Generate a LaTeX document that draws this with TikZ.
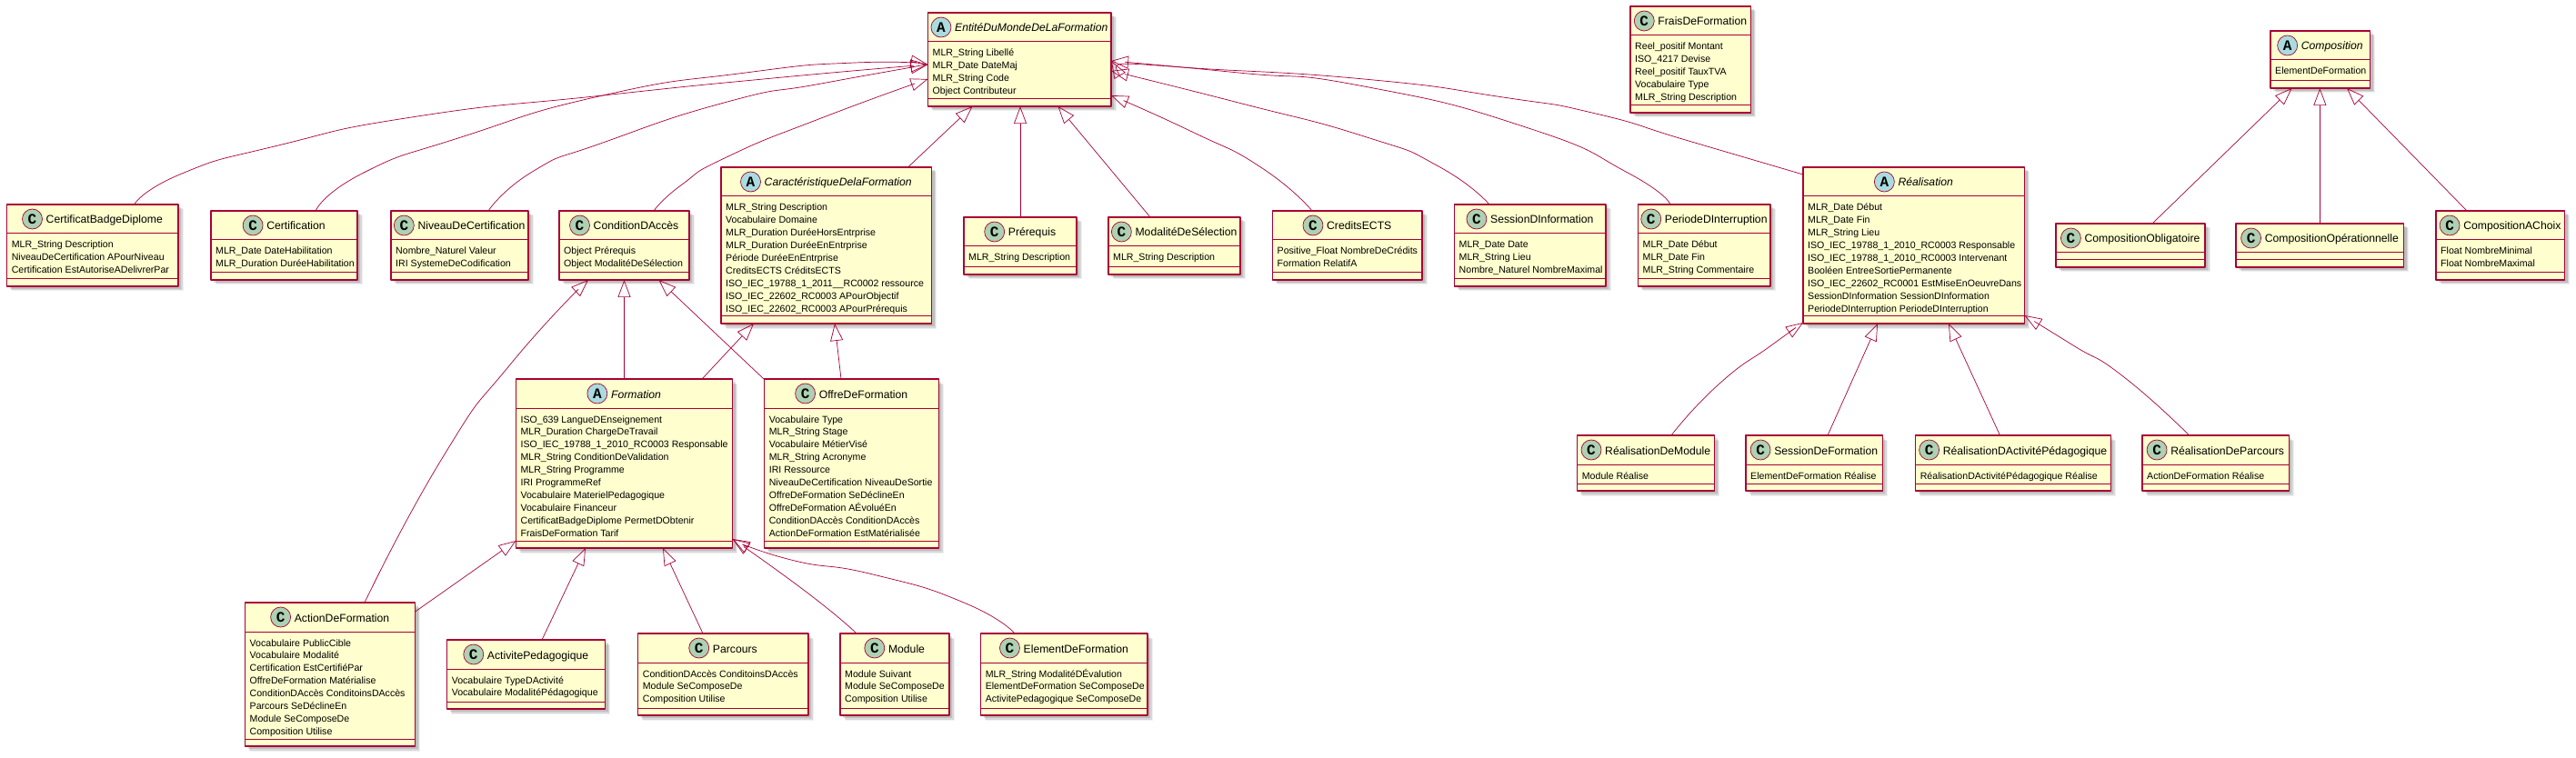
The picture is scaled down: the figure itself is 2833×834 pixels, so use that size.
\documentclass[tikz,border=0pt]{standalone}
\usepackage{fontspec}
\setmainfont{Liberation Sans}
\newfontfamily\markfont{Liberation Mono}
\usetikzlibrary{arrows.meta,shadows}
\definecolor{umlred}{HTML}{A80036}
\definecolor{umlfill}{HTML}{FEFECE}
\definecolor{markC}{HTML}{ADD1B2}
\definecolor{markA}{HTML}{A9DCDF}
\tikzset{
	classbox/.style={draw=umlred, fill=umlfill, line width=1.2pt, inner sep=0pt, outer sep=0pt,
		general shadow={shadow xshift=5.5pt, shadow yshift=-5.5pt, fill=black, opacity=.06},
		general shadow={shadow xshift=4.5pt, shadow yshift=-4.5pt, fill=black, opacity=.1},
		general shadow={shadow xshift=3pt, shadow yshift=-3pt, fill=black, opacity=.12}},
	classline/.style={draw=umlred, line width=1pt},
	titleC/.style={font=\fontsize{12.2}{14}\selectfont, inner sep=0pt, anchor=base},
	titleA/.style={font=\fontsize{12.2}{14}\selectfont\itshape, inner sep=0pt, anchor=base},
	member/.style={font=\fontsize{10.6}{14}\selectfont, inner sep=0pt, anchor=base west},
	classmark/.style={circle, draw=umlred, fill=mark#1, line width=.7pt, minimum size=22pt, inner sep=0pt,
		font=\fontsize{16}{16}\selectfont\markfont\bfseries},
	extends/.style={draw=umlred, line width=.7pt, -{Triangle[open,length=19pt,width=14pt]}},
	curved/.style={smooth, tension=1},
}
% #1 letter, #2 name, #3-#6 box corners, #7 title, #8 members
\newcommand{\umlclass}[8][C]{
	\node[classbox, minimum width={(#5-#3)*1pt}, minimum height={(#6-#4)*1pt}] (#2) at ({(#3+#5)/2},{(#4+#6)/2}) {};
	\draw[classline] ([yshift=-32pt]#2.north west) -- ([yshift=-32pt]#2.north east);
	\draw[classline] ([yshift=8pt]#2.south west) -- ([yshift=8pt]#2.south east);
	\node[title#1] (#2-title) at ([xshift=13pt,yshift=-21pt]#2.north) {#7};
	\node[classmark=#1] (#2-mark) at ([xshift=-15pt,yshift=5pt]#2-title.base west) {#1};
	\foreach \m [count=\i] in {#8}
		{\node[member] (#2-m\i) at ([xshift=5pt,yshift={-48pt-(\i-1)*13.9pt}]#2.north west) {\m};}
}
\begin{document}
\begin{tikzpicture}[x=1pt, y=-1pt, line join=round]
	\useasboundingbox (0,0) rectangle (2833,834);

	% top row
	\umlclass[A]{Entite}{1020.5}{14}{1222}{117}{EntitéDuMondeDeLaFormation}{MLR\_String Libellé,MLR\_Date DateMaj,MLR\_String Code,Object Contributeur}
	\umlclass{Frais}{1793}{7}{1925.5}{124}{FraisDeFormation}{Reel\_positif Montant,ISO\_4217 Devise,Reel\_positif TauxTVA,Vocabulaire Type,MLR\_String Description}
	\umlclass[A]{Composition}{2497}{34}{2606.5}{97}{Composition}{ElementDeFormation}

	% second row
	\umlclass{Badge}{7.6}{225}{196}{315}{CertificatBadgeDiplome}{MLR\_String Description,NiveauDeCertification APourNiveau,Certification EstAutoriseADelivrerPar}
	\umlclass{Certification}{232}{232}{393}{308}{Certification}{MLR\_Date DateHabilitation,MLR\_Duration DuréeHabilitation}
	\umlclass{Niveau}{430}{232}{581}{308}{NiveauDeCertification}{Nombre\_Naturel Valeur,IRI SystemeDeCodification}
	\umlclass{Condition}{615}{232}{758}{308}{ConditionDAccès}{Object Prérequis,Object ModalitéDeSélection}
	\umlclass[A]{Caracteristique}{793}{184}{1024.5}{356}{CaractéristiqueDelaFormation}{MLR\_String Description,Vocabulaire Domaine,MLR\_Duration DuréeHorsEntrprise,MLR\_Duration DuréeEnEntrprise,Période DuréeEnEntrprise,CreditsECTS CréditsECTS,ISO\_IEC\_19788\_1\_2011\_\_RC0002 ressource,ISO\_IEC\_22602\_RC0003 APourObjectif,ISO\_IEC\_22602\_RC0003 APourPrérequis}
	\umlclass{Prerequis}{1060}{239}{1184}{302}{Prérequis}{MLR\_String Description}
	\umlclass{Modalite}{1219}{239}{1364}{302}{ModalitéDeSélection}{MLR\_String Description}
	\umlclass{Credits}{1399.5}{232}{1564}{308}{CreditsECTS}{Positive\_Float NombreDeCrédits,Formation RelatifA}
	\umlclass{Session}{1599.5}{225}{1766}{315}{SessionDInformation}{MLR\_Date Date,MLR\_String Lieu,Nombre\_Naturel NombreMaximal}
	\umlclass{Periode}{1801.5}{225}{1947}{315}{PeriodeDInterruption}{MLR\_Date Début,MLR\_Date Fin,MLR\_String Commentaire}
	\umlclass[A]{Realisation}{1983}{184}{2226.5}{356}{Réalisation}{MLR\_Date Début,MLR\_Date Fin,MLR\_String Lieu,ISO\_IEC\_19788\_1\_2010\_RC0003 Responsable,ISO\_IEC\_19788\_1\_2010\_RC0003 Intervenant,Booléen EntreeSortiePermanente,ISO\_IEC\_22602\_RC0001 EstMiseEnOeuvreDans,SessionDInformation SessionDInformation,PeriodeDInterruption PeriodeDInterruption}
	\umlclass{Obligatoire}{2261}{246}{2425}{294}{CompositionObligatoire}{}
	\umlclass{Operationnelle}{2459}{246}{2643.7}{294}{CompositionOpérationnelle}{}
	\umlclass{AChoix}{2679}{232}{2820.6}{308}{CompositionAChoix}{Float NombreMinimal,Float NombreMaximal}

	% third row
	\umlclass[A]{Formation}{567.4}{417}{805.6}{603}{Formation}{ISO\_639 LangueDEnseignement,MLR\_Duration ChargeDeTravail,ISO\_IEC\_19788\_1\_2010\_RC0003 Responsable,MLR\_String ConditionDeValidation,MLR\_String Programme,IRI ProgrammeRef,Vocabulaire MaterielPedagogique,Vocabulaire Financeur,CertificatBadgeDiplome PermetDObtenir,FraisDeFormation Tarif}
	\umlclass{Offre}{840.6}{417}{1032.4}{603}{OffreDeFormation}{Vocabulaire Type,MLR\_String Stage,Vocabulaire MétierVisé,MLR\_String Acronyme,IRI Ressource,NiveauDeCertification NiveauDeSortie,OffreDeFormation SeDéclineEn,OffreDeFormation AÉvoluéEn,ConditionDAccès ConditionDAccès,ActionDeFormation EstMatérialisée}
	\umlclass{ReaModule}{1734.7}{479}{1885.7}{540}{RéalisationDeModule}{Module Réalise}
	\umlclass{ReaSession}{1920}{479}{2070.4}{540}{SessionDeFormation}{ElementDeFormation Réalise}
	\umlclass{ReaActivite}{2106.6}{479}{2321.4}{540}{RéalisationDActivitéPédagogique}{RéalisationDActivitéPédagogique Réalise}
	\umlclass{ReaParcours}{2356}{479}{2517.3}{540}{RéalisationDeParcours}{ActionDeFormation Réalise}

	% bottom row
	\umlclass{Action}{269.5}{663}{456.6}{821}{ActionDeFormation}{Vocabulaire PublicCible,Vocabulaire Modalité,Certification EstCertifiéPar,OffreDeFormation Matérialise,ConditionDAccès ConditoinsDAccès,Parcours SeDéclineEn,Module SeComposeDe,Composition Utilise}
	\umlclass{Activite}{491.6}{704}{665.6}{780}{ActivitePedagogique}{Vocabulaire TypeDActivité,Vocabulaire ModalitéPédagogique}
	\umlclass{Parcours}{701.7}{697}{889}{787}{Parcours}{ConditionDAccès ConditoinsDAccès,Module SeComposeDe,Composition Utilise}
	\umlclass{Module}{924}{697}{1044}{787}{Module}{Module Suivant,Module SeComposeDe,Composition Utilise}
	\umlclass{Element}{1078.6}{697}{1262}{787}{ElementDeFormation}{MLR\_String ModalitéDÉvalution,ElementDeFormation SeComposeDe,ActivitePedagogique SeComposeDe}

	% EntitéDuMonde, left side
	\draw[extends] plot[curved] coordinates {([xshift=140pt]Badge.north west) (200,191) (306,160) (459,128) (663,105) (850,86) ([yshift=-57pt]Entite.north west)};
	\draw[extends] plot[curved] coordinates {([xshift=115pt]Certification.north west) (400,190) (510,150) (663,105) (820,80) (940,69) ([yshift=-57pt]Entite.north west)};
	\draw[extends] plot[curved] coordinates {([xshift=107pt]Niveau.north west) (587,188) (663,157) (800,112) (903,92) ([yshift=-57pt]Entite.north west)};
	\draw[extends] plot[curved] coordinates {([xshift=104pt]Condition.north west) (750,203) (801,172) (903,130) ([yshift=-73pt]Entite.north west)};
	% EntitéDuMonde, bottom
	\draw[extends] ([xshift=205.5pt]Caracteristique.north west) -- ([xshift=49pt]Entite.south west);
	\draw[extends] (Prerequis.north) -- (Prerequis.north |- Entite.south);
	\draw[extends] ([xshift=46pt]Modalite.north west) -- ([xshift=143pt]Entite.south west);
	% EntitéDuMonde, right side
	\draw[extends] plot[curved] coordinates {([xshift=43.5pt]Credits.north west) (1388,185) (1311,145) ([yshift=-91pt]Entite.north east)};
	\draw[extends] plot[curved] coordinates {([xshift=38.5pt]Session.north west) (1582,183) (1500,150) (1362,113) ([yshift=-64pt]Entite.north east)};
	\draw[extends] plot[curved] coordinates {([xshift=35.5pt]Periode.north west) (1790,190) (1678,140) (1500,95) (1362,80) ([yshift=-53pt]Entite.north east)};
	\draw[extends] plot[curved] coordinates {([yshift=-8pt]Realisation.north west) (1857,155) (1755,125) (1653,107) (1500,87) (1300,74) ([yshift=-53pt]Entite.north east)};

	% ConditionDAccès and CaractéristiqueDelaFormation
	\draw[extends] plot[curved] coordinates {([xshift=131.5pt]Action.north west) (487,503) (562,400) ([xshift=32pt]Condition.south west)};
	\draw[extends] (Formation.north -| Condition.south) -- (Condition.south);
	\draw[extends] ([xshift=-.6pt]Offre.north west) -- ([xshift=109.5pt]Condition.south west);
	\draw[extends] ([xshift=204.6pt]Formation.north west) -- ([xshift=36pt]Caracteristique.south west);
	\draw[extends] ([xshift=84.4pt]Offre.north west) -- ([xshift=125pt]Caracteristique.south west);

	% Formation
	\draw[extends] ([yshift=-10pt]Action.north east) -- ([yshift=8pt]Formation.south west);
	\draw[extends] ([xshift=104.4pt]Activite.north west) -- ([xshift=76.6pt]Formation.south west);
	\draw[extends] ([xshift=71.3pt]Parcours.north west) -- ([xshift=161.6pt]Formation.south west);
	\draw[extends] plot[curved] coordinates {([xshift=18pt]Module.north west) (889,653) ([yshift=10pt]Formation.south east)};
	\draw[extends] plot[curved] coordinates {([xshift=37.4pt]Element.north west) (1060,663) (960,632) (870,616) ([yshift=10pt]Formation.south east)};

	% Réalisation
	\draw[extends] plot[curved] coordinates {([xshift=103.3pt]ReaModule.north west) (1890,423) (1948,380) ([yshift=1pt]Realisation.south west)};
	\draw[extends] ([xshift=90pt]ReaSession.north west) -- ([xshift=82pt]Realisation.south west);
	\draw[extends] ([xshift=92.9pt]ReaActivite.north west) -- ([xshift=160pt]Realisation.south west);
	\draw[extends] plot[curved] coordinates {([xshift=51.6pt]ReaParcours.north west) (2336,415) (2280,380) ([yshift=9pt]Realisation.south east)};

	% Composition
	\draw[extends] ([xshift=106pt]Obligatoire.north west) -- ([xshift=23.6pt]Composition.south west);
	\draw[extends] (Operationnelle.north) -- (Operationnelle.north |- Composition.south);
	\draw[extends] ([xshift=34pt]AChoix.north west) -- ([xshift=84pt]Composition.south west);
\end{tikzpicture}
\end{document}
